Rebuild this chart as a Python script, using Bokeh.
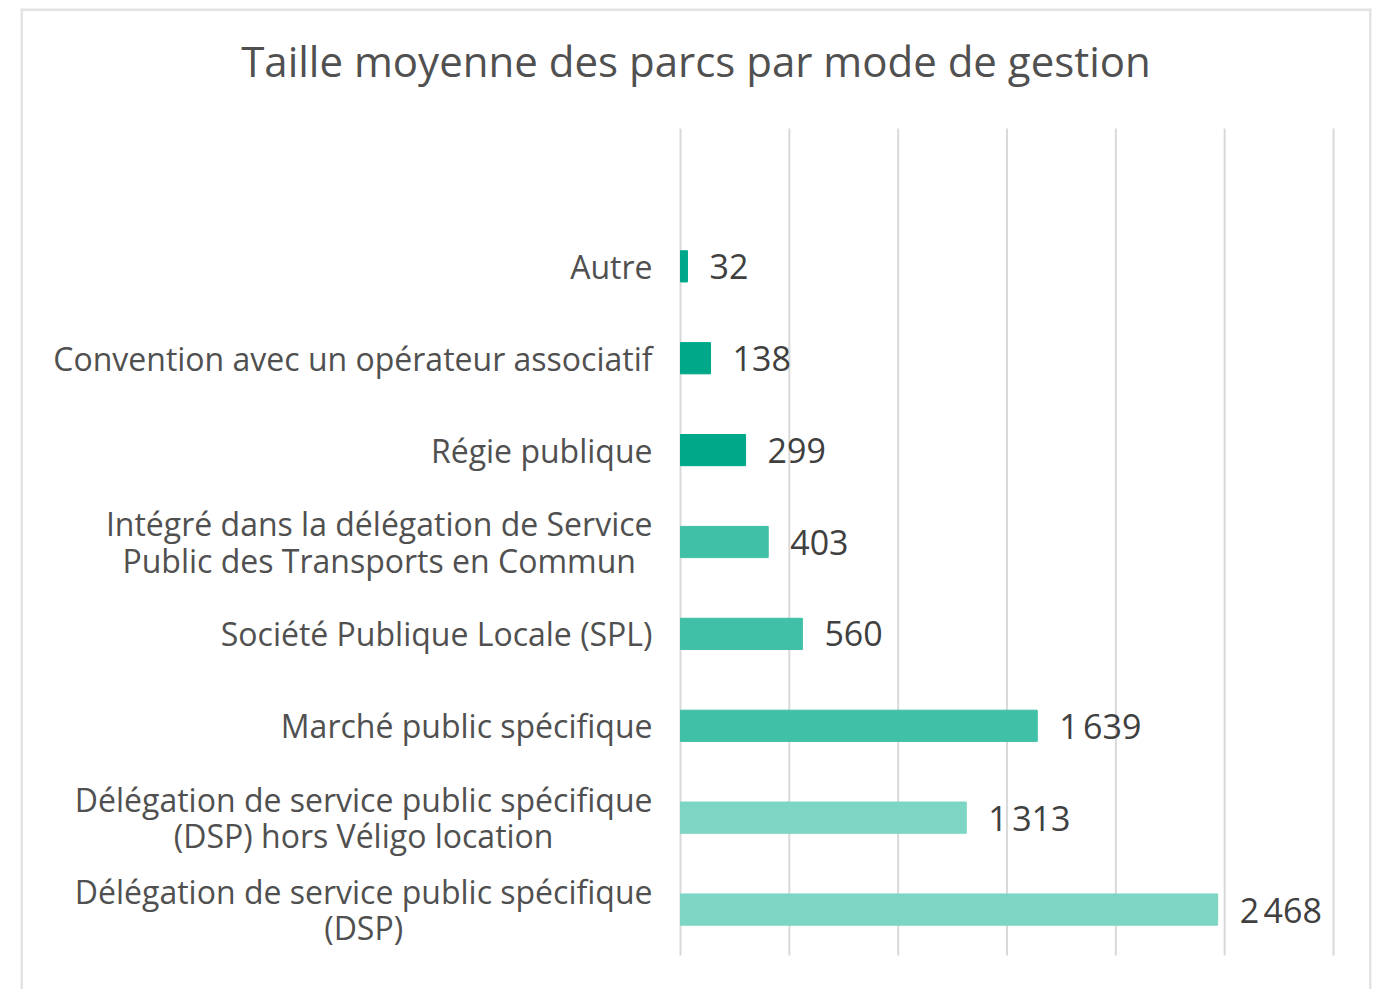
import glob, subprocess
import numpy as np
from bokeh.plotting import figure
from bokeh.models import Range1d, ColumnDataSource
from bokeh.core.properties import value
from bokeh.embed import file_html
from bokeh.resources import INLINE

# ---- data (bottom to top) ----
categories = [
    "Délégation de service public spécifique\n(DSP)",
    "Délégation de service public spécifique\n(DSP) hors Véligo location",
    "Marché public spécifique",
    "Société Publique Locale (SPL)",
    "Intégré dans la délégation de Service\nPublic des Transports en Commun",
    "Régie publique",
    "Convention avec un opérateur associatif",
    "Autre",
]
values = [2468, 1313, 1639, 560, 403, 299, 138, 32]
colors = ["#7dd5c3", "#7dd5c3", "#40c0a6", "#40c0a6", "#40c0a6", "#00a88a", "#00a88a", "#00a88a"]
title_text = "Taille moyenne des parcs par mode de gestion"
x_ticks = [0, 500, 1000, 1500, 2000, 2500, 3000]

# ---- style / layout ----
FONT = "Open Sans"
LABEL_PX = 32
VALUE_PX = 34
TITLE_PX = 42
W, H = 1383, 989
BOX_L, BOX_R, BOX_T = 20, 1371, 8          # outer chart border (canvas px)
PLOT_L, PLOT_R, PLOT_T, PLOT_B = 680, 1333, 128, 955  # value axis area
LABEL_GAP = 28

n = len(categories)
ypos = [i + 0.5 for i in range(n)]
labels = [f"{v:,}".replace(",", "\u202f") for v in values]

# text widths for centring multi-line category labels
def _font_path():
    try:
        out = subprocess.run(["fc-match", "-f", "%{file}", FONT], capture_output=True, text=True, timeout=5).stdout.strip()
        if out:
            return out
    except Exception:
        pass
    for pat in ["/usr/share/fonts/**/OpenSans*.ttf", "/usr/local/share/fonts/**/OpenSans*.ttf"]:
        hits = sorted(glob.glob(pat, recursive=True))
        if hits:
            return hits[0]
    return None

def _width(s, size):
    try:
        from PIL import ImageFont
        f = ImageFont.truetype(_font_path(), size)
        return f.getlength(s)
    except Exception:
        return 0.55 * size * len(s)

label_w = [max(_width(line, LABEL_PX) for line in c.split("\n")) for c in categories]
label_off = [-(LABEL_GAP + w / 2) for w in label_w]

# data ranges mapped so that value 0..3000 spans PLOT_L..PLOT_R and rows 0..n+1 span PLOT_T..PLOT_B
x0, x1 = x_ticks[0], x_ticks[-1]
xs = (PLOT_R - PLOT_L) / (x1 - x0)
x_start = x0 - (PLOT_L - BOX_L) / xs
x_end = x1 + (BOX_R - PLOT_R) / xs
ys = (PLOT_B - PLOT_T) / (n + 1)
y_start = 0 - (H - PLOT_B) / ys
y_end = (n + 1) + (PLOT_T - BOX_T) / ys

src = ColumnDataSource(dict(y=ypos, v=values, c=colors, lab=labels, cat=categories,
                            zero=[0] * n, off=label_off))

p = figure(
    width=W, height=H,
    x_range=Range1d(x_start, x_end), y_range=Range1d(y_start, y_end),
    output_backend="svg", toolbar_location=None,
    min_border_left=BOX_L, min_border_right=W - BOX_R, min_border_top=BOX_T, min_border_bottom=0,
    outline_line_color=None,
    background_fill_color="white", border_fill_color="white",
)
p.xaxis.visible = False
p.yaxis.visible = False
p.grid.visible = False

# chart border: left, top, right (no bottom), along the range edges
p.segment(x0=[x_start, x_start, x_end], x1=[x_start, x_end, x_end],
          y0=[y_start, y_end, y_start], y1=[y_end, y_end, y_end],
          line_color="#e3e3e3", line_width=5)

# vertical grid lines
p.segment(x0=x_ticks, x1=x_ticks, y0=[0] * len(x_ticks), y1=[n + 1] * len(x_ticks),
          line_color="#d9d9d9", line_width=2)

p.hbar(y="y", right="v", left=0, height=0.34, color="c", source=src)

p.text(x="v", y="y", text="lab", source=src, x_offset=22, text_baseline="middle",
       text_align="left", text_font=value(FONT), text_font_size=f"{VALUE_PX}px", text_color="#404040")

p.text(x="zero", y="y", text="cat", source=src, x_offset="off", text_baseline="middle",
       text_align="center", text_font=value(FONT), text_font_size=f"{LABEL_PX}px",
       text_color="#505050", text_line_height=0.85)

p.text(x=[(x_start + x_end) / 2], y=[(n + 1) + (PLOT_T - 60) / ys], text=[title_text],
       text_align="center", text_baseline="middle", text_font=value(FONT),
       text_font_size=f"{TITLE_PX}px", text_color="#505050")

open("out.html", "w").write(file_html(p, INLINE))
